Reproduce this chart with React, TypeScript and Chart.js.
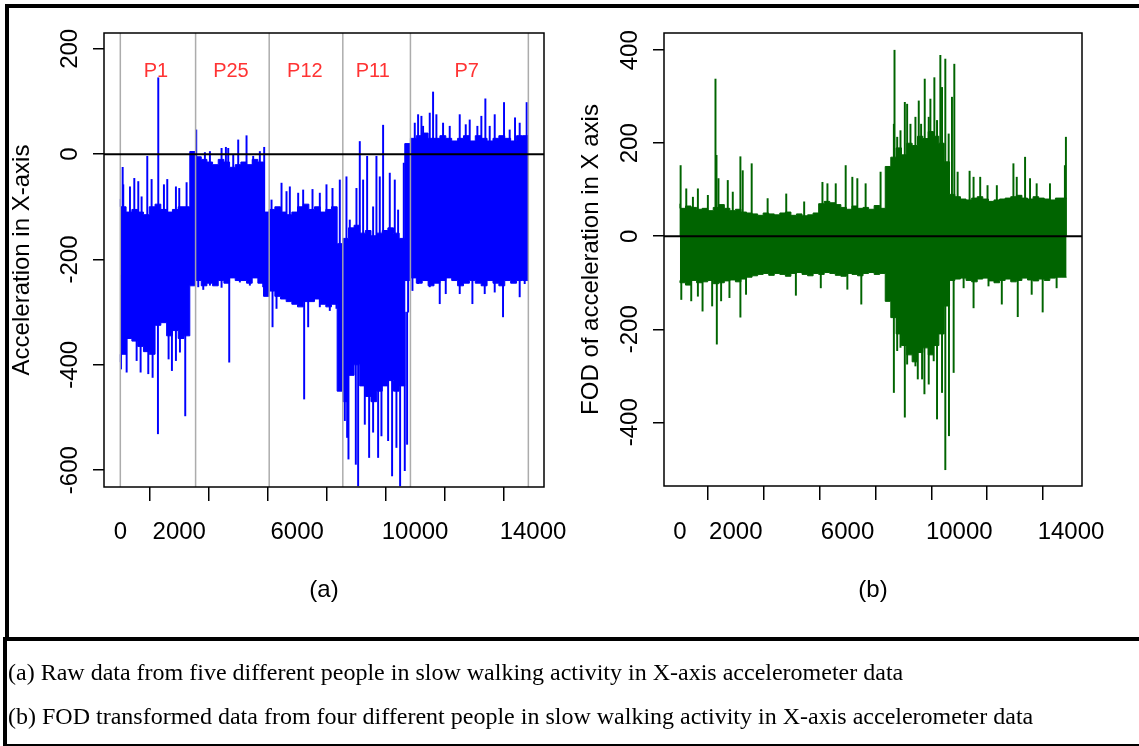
import React, { useEffect, useRef } from 'react';
import { Chart, registerables } from 'chart.js';

Chart.register(...registerables);

// ---------------- Panel (a): raw X-axis acceleration, five people ----------------
const rawPeople = ['P1', 'P25', 'P12', 'P11', 'P7'];
const rawBounds = [0, 2554, 5051, 7548, 9842, 13842];
const rawPeopleX = [1210, 3753, 6261, 8566, 11753];
const rawPeopleY = 157;
const rawSpikeBase = [-230, -120, -190, -300, -105];

const p1Upper = [-85, -100, -110, -105, -110, -115, -100, -95, -105, -110, -105, -100, -100];
const p1Lower = [-395, -380, -350, -355, -365, -375, -380, -325, -320, -345, -335, -350, -345];
const p25Upper = [5, -5, -10, -15, -20, -10, -15, -25, -20, -15, -20, -10, -15];
const p25Lower = [-250, -240, -250, -245, -250, -240, -245, -235, -240, -240, -245, -235, -245];
const p12Upper = [-110, -105, -100, -110, -115, -110, -100, -95, -105, -100, -110, -105, -100];
const p12Lower = [-270, -260, -270, -275, -280, -285, -290, -280, -280, -275, -285, -290, -285];
const p11Upper = [-170, -160, -140, -135, -150, -145, -155, -150, -145, -140, -150, -160];
const p11Lower = [-450, -470, -420, -400, -440, -460, -470, -450, -440, -430, -450, -440];
const p7Upper = [20, 30, 35, 40, 30, 30, 35, 30, 25, 30, 35, 25, 35, 30, 25, 30, 35, 30, 25, 35];
const p7Lower = [-240, -235, -245, -240, -250, -245, -240, -235, -240, -250, -245, -240, -245, -250, -240, -245, -250, -240, -245, -240];

const rawUpSpikeX = [80, 100, 328, 475, 610, 723, 915, 1062, 1288, 1480, 1593, 1887, 2000, 2249, 2418,
  2576, 2870, 3040, 3435, 3582, 3661, 3831, 4000, 4282, 4508, 4734, 4881,
  5130, 5469, 5638, 5751, 6034, 6203, 6520, 6768, 6994, 7198, 7446,
  7672, 7785, 8011, 8124, 8237, 8373, 8576, 8689, 8802, 8915, 9141, 9311, 9424, 9616, 9763,
  9989, 10102, 10215, 10271, 10497, 10610, 10723, 10949, 11175, 11514, 11718, 11853, 12113, 12248, 12384, 12531, 12701, 13017, 13209, 13390, 13548, 13785];
const rawUpSpikeY = [-25, -58, -62, -46, -52, -81, -4, -48, 145, -58, -48, -62, -65, -54, -68,
  46, 3, 5, 11, 13, 11, -1, 27, 35, -4, 5, 13,
  -87, -55, -71, -62, -74, -68, -67, -74, -58, -65, -49,
  -43, -125, -65, 24, -49, -4, -100, -4, -43, 55, -36, -49, -106, -17, -74,
  59, 75, 72, 53, 78, 118, 75, 59, 53, 75, 56, 65, 53, 72, 105, 53, 75, 98, 46, 69, 59, 98];

const rawDownSpikeX = [23, 215, 554, 689, 949, 1096, 1277, 1638, 1751, 1887, 2023, 2203,
  2644, 2814, 3040, 3435, 3695, 4056, 4395, 4847,
  5164, 5299, 5751, 5977, 6237, 6373, 6768, 7107, 7333,
  7616, 7695, 7740, 7989, 8068, 8294, 8441, 8576, 8746, 8859, 9085, 9220, 9367, 9492, 9650, 9729,
  9910, 10102, 10497, 10836, 11040, 11514, 11944, 12362, 12701, 12983, 13548, 13718];
const rawDownSpikeY = [-408, -414, -392, -414, -417, -424, -531, -389, -411, -392, -376, -497,
  -252, -257, -249, -253, -395, -243, -249, -252,
  -328, -293, -271, -278, -465, -328, -290, -297, -293,
  -506, -538, -579, -589, -630, -513, -576, -528, -576, -535, -544, -611, -557, -630, -601, -551,
  -259, -246, -252, -284, -265, -265, -284, -265, -262, -309, -271, -246];

// ---------------- Panel (b): first-order difference ----------------
const fodBounds = [0, 7548, 9842, 13842];
const fodUpperA = [70, 60, 65, 62, 58, 60, 55, 62, 68, 60, 55, 58, 52, 50, 48, 45, 50, 48, 46, 50, 52, 45, 48, 44, 46, 50, 70, 75, 72, 68, 62, 58, 65, 60, 62, 58, 66, 60];
const fodLowerA = [-95, -100, -105, -95, -100, -98, -95, -102, -100, -96, -94, -98, -92, -88, -85, -82, -80, -84, -80, -82, -86, -80, -78, -82, -85, -80, -82, -78, -80, -84, -86, -80, -82, -85, -80, -78, -82, -80];
const fodUpperB = [150, 170, 190, 175, 200, 195, 215, 210, 225, 215, 200, 160];
const fodLowerB = [-140, -175, -210, -235, -255, -270, -250, -240, -255, -235, -210, -150];
const fodUpperC = [90, 85, 80, 78, 82, 85, 80, 75, 78, 80, 82, 85, 88, 82, 80, 85, 82, 80, 78, 82];
const fodLowerC = [-95, -92, -90, -95, -98, -92, -90, -96, -100, -95, -92, -98, -95, -90, -94, -96, -92, -95, -90, -88];

const fodUpSpikeX = [24, 226, 464, 642, 999, 1272, 1308, 1379, 1712, 1891, 2164, 2247, 2568, 3139, 3805, 4447, 5101, 5280, 5577, 5933, 6171, 6350, 6647, 7182,
  7658, 7681, 7777, 7895, 8050, 8133, 8252, 8430, 8549, 8633, 8763, 8906, 8966, 9108, 9203, 9322, 9382, 9500, 9620, 9738, 9822,
  9941, 10369, 10511, 10749, 11011, 11344, 11938, 12057, 12355, 12533, 12770, 13246, 13781, 13817];
const fodUpSpikeY = [152, 102, 84, 102, 88, 338, 174, 124, 120, 95, 171, 141, 156, 81, 91, 74, 116, 113, 113, 152, 127, 124, 113, 138,
  241, 400, 213, 227, 288, 284, 241, 256, 291, 241, 338, 256, 295, 341, 249, 389, 320, 381, 220, 299, 370,
  138, 140, 127, 127, 109, 109, 156, 127, 170, 124, 113, 113, 152, 213];
const fodDownSpikeX = [48, 404, 642, 809, 1153, 1320, 1474, 1772, 2164, 2366, 4150, 5042, 5993, 6492,
  7658, 7777, 7895, 8050, 8133, 8311, 8430, 8514, 8668, 8752, 8906, 9084, 9203, 9382, 9500, 9631, 9798,
  10155, 10511, 11046, 11522, 12093, 12592, 12985, 13484];
const fodDownSpikeY = [-136, -139, -129, -161, -150, -232, -139, -132, -174, -125, -127, -111, -114, -146,
  -336, -246, -239, -389, -275, -232, -279, -307, -307, -339, -318, -268, -393, -336, -502, -429, -293,
  -111, -154, -107, -146, -173, -125, -163, -111];

// ---------------- Axes ----------------
const xTickVals = [0, 2000, 4000, 6000, 8000, 10000, 12000, 14000];
const xTickLabels = ['0', '2000', '', '6000', '', '10000', '', '14000'];
const rawYTicks = [-600, -400, -200, 0, 200];
const fodYTicks = [-400, -200, 0, 200, 400];

const SANS = '"Liberation Sans", Arial, Helvetica, sans-serif';
const SERIF = '"Liberation Serif", "Times New Roman", Times, serif';

type Pt = { x: number; y: number };

function envelope(bounds: number[], segs: number[][]): Pt[] {
  const pts: Pt[] = [];
  segs.forEach((vals, k) => {
    const a = bounds[k];
    const b = bounds[k + 1];
    const w = (b - a) / vals.length;
    vals.forEach((v, j) => pts.push({ x: a + j * w, y: v }));
    if (k === segs.length - 1) pts.push({ x: b, y: vals[vals.length - 1] });
  });
  return pts;
}

function segIndex(bounds: number[], x: number) {
  for (let k = 0; k < bounds.length - 1; k++) if (x >= bounds[k] && x < bounds[k + 1]) return k;
  return bounds.length - 2;
}

function spikes(xs: number[], ys: number[], base: (x: number) => number) {
  return xs.map((x, i) => ({ x, y: [base(x), ys[i]] }));
}

type Spec = {
  color: string;
  upper: Pt[];
  lower: Pt[];
  spikeData: any[];
  xMin: number; xMax: number; yMin: number; yMax: number;
  yTicks: number[];
  padTop: number; padRight: number; yAxisWidth: number; xAxisHeight: number;
  yTitle: string; yTitleOffset: number; yLabelOffset: number;
  xLabelOffset: number; panel: string; panelOffset: number;
  vlines: number[];
  people?: string[]; peopleX?: number[]; peopleY?: number;
};

function rPlugin(spec: Spec) {
  return {
    id: 'rStyle',
    afterDatasetsDraw(chart: any) {
      const { ctx, chartArea: ca } = chart;
      const xs = chart.scales.x;
      const ys = chart.scales.y;
      ctx.save();
      ctx.strokeStyle = 'rgba(168,168,168,0.95)';
      ctx.lineWidth = 1.5;
      spec.vlines.forEach((v) => {
        const px = xs.getPixelForValue(v);
        ctx.beginPath();
        ctx.moveTo(px, ca.top);
        ctx.lineTo(px, ca.bottom);
        ctx.stroke();
      });
      const y0 = ys.getPixelForValue(0);
      ctx.strokeStyle = '#000';
      ctx.lineWidth = 2;
      ctx.beginPath();
      ctx.moveTo(ca.left, y0);
      ctx.lineTo(ca.right, y0);
      ctx.stroke();
      ctx.lineWidth = 1.5;
      ctx.strokeRect(ca.left, ca.top, ca.right - ca.left, ca.bottom - ca.top);
      ctx.restore();
    },
    afterDraw(chart: any) {
      const { ctx, chartArea: ca } = chart;
      const xs = chart.scales.x;
      const ys = chart.scales.y;
      ctx.save();
      ctx.fillStyle = '#000';
      ctx.font = `24px ${SANS}`;
      ctx.textAlign = 'center';
      ctx.textBaseline = 'middle';
      xTickVals.forEach((v, i) => {
        if (xTickLabels[i]) ctx.fillText(xTickLabels[i], xs.getPixelForValue(v), ca.bottom + spec.xLabelOffset);
      });
      spec.yTicks.forEach((v) => {
        ctx.save();
        ctx.translate(ca.left - spec.yLabelOffset, ys.getPixelForValue(v));
        ctx.rotate(-Math.PI / 2);
        ctx.fillText(String(v), 0, 0);
        ctx.restore();
      });
      ctx.save();
      ctx.translate(ca.left - spec.yTitleOffset, (ca.top + ca.bottom) / 2);
      ctx.rotate(-Math.PI / 2);
      ctx.fillText(spec.yTitle, 0, 0);
      ctx.restore();
      ctx.fillText(spec.panel, (ca.left + ca.right) / 2, ca.bottom + spec.panelOffset);
      if (spec.people && spec.peopleX && spec.peopleY !== undefined) {
        ctx.fillStyle = '#ff3333';
        ctx.font = `20px ${SANS}`;
        spec.people.forEach((p, i) => {
          ctx.fillText(p, xs.getPixelForValue(spec.peopleX![i]), ys.getPixelForValue(spec.peopleY!));
        });
      }
      ctx.restore();
    },
  };
}

function makeChart(canvas: HTMLCanvasElement, spec: Spec) {
  return new Chart(canvas, {
    type: 'line',
    data: {
      datasets: [
        {
          data: spec.upper as any,
          stepped: 'after',
          borderColor: spec.color,
          backgroundColor: spec.color,
          borderWidth: 1,
          pointRadius: 0,
          fill: '+1',
        } as any,
        {
          data: spec.lower as any,
          stepped: 'after',
          borderColor: spec.color,
          backgroundColor: spec.color,
          borderWidth: 1,
          pointRadius: 0,
          fill: false,
        } as any,
        {
          type: 'bar',
          data: spec.spikeData,
          backgroundColor: spec.color,
          borderWidth: 0,
          barThickness: 1.3,
          grouped: false,
        } as any,
      ],
    },
    options: {
      responsive: false,
      animation: false,
      events: [],
      layout: { padding: { left: 0, top: spec.padTop, right: spec.padRight, bottom: 0 } },
      plugins: { legend: { display: false }, tooltip: { enabled: false } },
      scales: {
        x: {
          type: 'linear',
          min: spec.xMin,
          max: spec.xMax,
          offset: false,
          afterBuildTicks: (s: any) => { s.ticks = xTickVals.map((v) => ({ value: v })); },
          afterFit: (s: any) => { s.height = spec.xAxisHeight; },
          ticks: { display: false },
          grid: { drawOnChartArea: false, drawTicks: true, tickLength: 14, color: '#000', lineWidth: 1.5 },
          border: { display: false },
        },
        y: {
          type: 'linear',
          min: spec.yMin,
          max: spec.yMax,
          afterBuildTicks: (s: any) => { s.ticks = spec.yTicks.map((v) => ({ value: v })); },
          afterFit: (s: any) => { s.width = spec.yAxisWidth; },
          ticks: { display: false },
          grid: { drawOnChartArea: false, drawTicks: true, tickLength: 11, color: '#000', lineWidth: 1.5 },
          border: { display: false },
        },
      } as any,
    },
    plugins: [rPlugin(spec)],
  });
}

export default function App() {
  const rawRef = useRef<HTMLCanvasElement>(null);
  const fodRef = useRef<HTMLCanvasElement>(null);

  useEffect(() => {
    const rawSegBase = (x: number) => rawSpikeBase[segIndex(rawBounds, x)];
    const rawSpec: Spec = {
      color: '#0000ff',
      upper: envelope(rawBounds, [p1Upper, p25Upper, p12Upper, p11Upper, p7Upper]),
      lower: envelope(rawBounds, [p1Lower, p25Lower, p12Lower, p11Lower, p7Lower]),
      spikeData: [
        ...spikes(rawUpSpikeX, rawUpSpikeY, rawSegBase),
        ...spikes(rawDownSpikeX, rawDownSpikeY, rawSegBase),
      ],
      xMin: -553, xMax: 14373, yMin: -632, yMax: 230,
      yTicks: rawYTicks,
      padTop: 33, padRight: 56, yAxisWidth: 104, xAxisHeight: 143,
      yTitle: 'Acceleration in X-axis', yTitleOffset: 82, yLabelOffset: 34,
      xLabelOffset: 45, panel: '(a)', panelOffset: 103,
      vlines: rawBounds,
      people: rawPeople, peopleX: rawPeopleX, peopleY: rawPeopleY,
    };
    const fodSpec: Spec = {
      color: '#006400',
      upper: envelope(fodBounds, [fodUpperA, fodUpperB, fodUpperC]),
      lower: envelope(fodBounds, [fodLowerA, fodLowerB, fodLowerC]),
      spikeData: [
        ...spikes(fodUpSpikeX, fodUpSpikeY, () => 0),
        ...spikes(fodDownSpikeX, fodDownSpikeY, () => 0),
      ],
      xMin: -571, xMax: 14393, yMin: -537, yMax: 437,
      yTicks: fodYTicks,
      padTop: 33, padRight: 57, yAxisWidth: 104, xAxisHeight: 144,
      yTitle: 'FOD of acceleration in X axis', yTitleOffset: 73, yLabelOffset: 34,
      xLabelOffset: 46, panel: '(b)', panelOffset: 104,
      vlines: [],
    };
    const c1 = makeChart(rawRef.current!, rawSpec);
    const c2 = makeChart(fodRef.current!, fodSpec);
    return () => { c1.destroy(); c2.destroy(); };
  }, []);

  const black = '#000';
  return (
    <div style={{ position: 'fixed', left: 0, top: 0, width: 1139, height: 746, background: '#fff', overflow: 'hidden' }}>
      <canvas ref={rawRef} width={600} height={630} style={{ position: 'absolute', left: 0, top: 0 }} />
      <canvas ref={fodRef} width={579} height={630} style={{ position: 'absolute', left: 560, top: 0 }} />
      <div style={{ position: 'absolute', left: 5, top: 4, width: 1134, height: 4, background: black }} />
      <div style={{ position: 'absolute', left: 5, top: 4, width: 4, height: 633, background: black }} />
      <div style={{ position: 'absolute', left: 3, top: 637, width: 1136, height: 4, background: black }} />
      <div style={{ position: 'absolute', left: 3, top: 637, width: 4, height: 109, background: black }} />
      <div style={{ position: 'absolute', left: 3, top: 744, width: 1136, height: 2, background: black }} />
      <div style={{ position: 'absolute', left: 8, top: 658, fontFamily: SERIF, fontSize: 24, lineHeight: '28px', color: '#000', whiteSpace: 'nowrap' }}>
        (a) Raw data from five different people in slow walking activity in X-axis accelerometer data
      </div>
      <div style={{ position: 'absolute', left: 8, top: 702, fontFamily: SERIF, fontSize: 24, lineHeight: '28px', color: '#000', whiteSpace: 'nowrap' }}>
        (b) FOD transformed data from four different people in slow walking activity in X-axis accelerometer data
      </div>
    </div>
  );
}
